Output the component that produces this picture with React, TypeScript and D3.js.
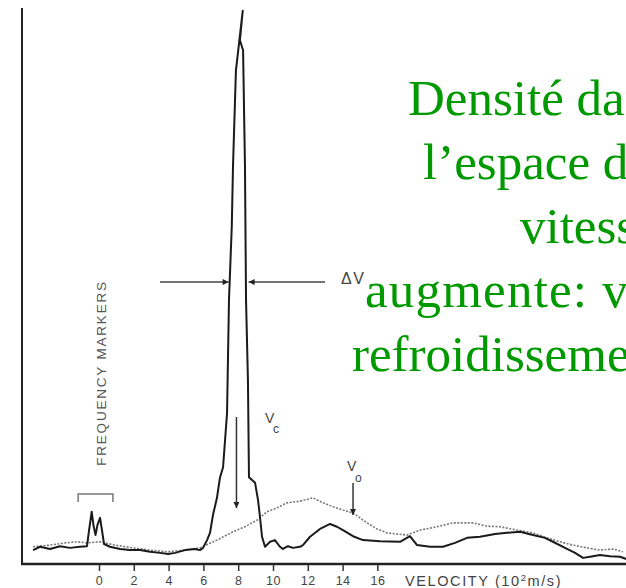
import { useEffect, useRef } from 'react';
import * as d3 from 'd3';

// velocity in 10^2 m/s, density in arbitrary units (0-100)
const solidVelocity = [
  -3.79, -3.39, -2.82, -2.24, -1.67, -1.09, -0.69, -0.57, -0.42, -0.32, -0.2, -0.09, 0.06, 0.17, 0.29,
  0.63, 1.21, 1.78, 2.36, 2.93, 3.51, 3.97, 4.37, 4.94, 5.52, 5.8, 5.98, 6.21, 6.38, 6.55, 6.78, 6.95,
  7.13, 7.36, 7.47, 7.63, 7.7, 7.87, 8.26, 8.1, 8.28, 8.39, 8.45, 8.56, 8.62, 8.97, 9.14, 9.25, 9.37,
  9.54, 9.83, 10.11, 10.4, 10.57, 10.86, 11.15, 11.55, 11.72, 12.13, 12.7, 13.28, 13.68, 14.02, 14.6,
  15.17, 16.15, 17.3, 17.87, 18.28, 19.02, 19.77, 20.46, 21.15, 21.9, 22.76, 23.45, 24.2, 24.94, 25.63,
  26.09, 26.78, 27.36, 27.82, 28.22, 28.79, 29.37, 29.94, 30.3,
];
const solidDensity = [
  2.5, 3.1, 2.7, 3.2, 2.9, 3.1, 3.2, 6.1, 9.4, 7.0, 5.2, 7.0, 8.3, 6.1, 3.6,
  3.1, 2.7, 2.5, 2.5, 2.2, 2.0, 1.8, 2.0, 2.5, 2.7, 2.5, 2.9, 4.3, 5.6, 8.8, 11.9, 15.5,
  17.4, 27.2, 47.5, 60.6, 71.4, 88.8, 99.5, 94.2, 92.4, 71.4, 47.5, 33.1, 15.6, 14.6, 11.5, 8.5, 4.9,
  3.1, 4.0, 4.3, 3.1, 2.7, 3.2, 2.9, 3.1, 3.4, 4.9, 6.3, 7.2, 6.7, 6.1, 5.0,
  4.3, 4.1, 4.0, 5.0, 3.4, 3.1, 3.1, 3.8, 4.7, 4.9, 5.4, 5.6, 5.8, 5.2, 4.7,
  4.0, 2.9, 2.0, 1.1, 1.3, 1.6, 1.4, 1.3, 0.9,
];

const dottedVelocity = [
  -3.79, -2.82, -1.95, -1.26, -0.69, 0.06, 0.92, 1.95, 2.93, 3.91, 4.94, 5.8, 6.78, 7.7, 8.39, 9.08,
  9.66, 10.23, 10.8, 11.55, 12.3, 12.87, 13.45, 14.02, 14.6, 15.4, 15.98, 16.55, 17.13, 17.7, 18.45,
  19.43, 20.34, 21.49, 22.3, 23.05, 24.02, 24.94, 25.75, 26.49, 27.24, 28.05, 28.79, 29.54, 30.11,
];
const dottedDensity = [
  3.1, 3.4, 3.8, 4.0, 3.8, 4.0, 3.4, 2.9, 2.5, 2.2, 2.5, 2.9, 4.3, 5.8, 6.7, 7.9,
  9.4, 10.1, 11.0, 11.3, 11.9, 11.0, 10.3, 9.7, 9.2, 7.4, 6.3, 5.6, 5.4, 5.2, 6.1,
  6.7, 7.4, 7.4, 6.8, 6.7, 6.1, 5.6, 4.7, 4.0, 3.4, 2.9, 2.5, 2.7, 2.2,
];

const tickValues = [0, 2, 4, 6, 8, 10, 12, 14, 16];
const vCapture = 7.9;
const vOven = 14.6;
const halfMax = 50.7;
const markerRange = [-1.2, 0.8];

const greenLines = ['Densité dans', 'l’espace des', 'vitesses', 'augmente: vrai', 'refroidissement'];
const greenStarts = [408, 423, 520, 365, 352];
const greenSpacing = [0, 0, 0, 1.2, 0];

const W = 626;
const H = 588;
const sans = 'Liberation Sans, Arial, sans-serif';

export default function App() {
  const axisRef = useRef<SVGGElement>(null);

  const x = d3.scaleLinear().domain([0, 16]).range([99, 377.4]);
  const y = d3.scaleLinear().domain([0, 100]).range([564, 8]);

  const line = d3
    .line<[number, number]>()
    .x((d) => x(d[0]))
    .y((d) => y(d[1]));

  const solid = solidVelocity.map((v, i) => [v, solidDensity[i]] as [number, number]);
  const dotted = dottedVelocity.map((v, i) => [v, dottedDensity[i]] as [number, number]);

  useEffect(() => {
    const g = d3.select(axisRef.current);
    g.selectAll('*').remove();
    g.call(
      d3.axisBottom(x).tickValues(tickValues).tickSize(6).tickPadding(5).tickFormat(d3.format('d'))
    );
    g.select('.domain').remove();
    g.selectAll('.tick line').attr('stroke', '#333').attr('stroke-width', 1.5);
    g.selectAll('.tick text')
      .attr('fill', '#444')
      .attr('font-size', 12.5)
      .attr('font-family', sans)
      .attr('letter-spacing', 0.5);
  }, []);

  const yHalf = y(halfMax);

  return (
    <svg
      width={W}
      height={H}
      style={{ position: 'absolute', left: 0, top: 0, background: '#fff' }}
    >
      <defs>
        <marker id="ah" viewBox="0 0 10 10" refX="10" refY="5" markerWidth="8" markerHeight="6" orient="auto" markerUnits="userSpaceOnUse">
          <path d="M0,0 L10,5 L0,10 z" fill="#222" />
        </marker>
      </defs>
      <rect width={W} height={H} fill="#fff" />

      {/* axes frame */}
      <line x1={22} y1={8} x2={22} y2={565} stroke="#222" strokeWidth={2} />
      <line x1={21} y1={564} x2={W} y2={564} stroke="#222" strokeWidth={2.5} />
      <g ref={axisRef} transform="translate(0,565)" />
      <text x={405} y={586} fill="#444" fontSize={14.5} fontFamily={sans} letterSpacing={1.6}>
        VELOCITY (10<tspan dy={-5} fontSize={9.5}>2</tspan>
        <tspan dy={5}>m/s)</tspan>
      </text>

      {/* curves */}
      <path d={line(dotted) || ''} fill="none" stroke="#777" strokeWidth={1.6} strokeDasharray="2,1.5" />
      <path d={line(solid) || ''} fill="none" stroke="#1a1a1a" strokeWidth={2} strokeLinejoin="round" />

      {/* frequency markers */}
      <path
        d={`M${x(markerRange[0])},502 V494 H${x(markerRange[1])} V502`}
        fill="none"
        stroke="#777"
        strokeWidth={1.5}
      />
      <text
        transform="translate(106,373) rotate(-90)"
        textAnchor="middle"
        fill="#555"
        fontSize={13.5}
        fontFamily={sans}
        letterSpacing={1.8}
      >
        FREQUENCY MARKERS
      </text>

      {/* delta v arrows at half maximum */}
      <line x1={160} y1={yHalf} x2={x(7.45)} y2={yHalf} stroke="#444" strokeWidth={1.5} markerEnd="url(#ah)" />
      <line x1={325} y1={yHalf} x2={x(8.6)} y2={yHalf} stroke="#444" strokeWidth={1.5} markerEnd="url(#ah)" />
      <text x={341} y={284} fill="#444" fontSize={16} fontFamily={sans} letterSpacing={1.5}>
        ΔV
      </text>

      {/* V_c and V_o */}
      <line x1={x(vCapture)} y1={417} x2={x(vCapture)} y2={508} stroke="#333" strokeWidth={1.5} markerEnd="url(#ah)" />
      <text x={265} y={423} fill="#444" fontSize={14} fontFamily={sans}>V</text>
      <text x={273} y={433} fill="#444" fontSize={12} fontFamily={sans}>c</text>
      <line x1={x(vOven)} y1={483} x2={x(vOven)} y2={515} stroke="#333" strokeWidth={1.5} markerEnd="url(#ah)" />
      <text x={347} y={471} fill="#444" fontSize={14} fontFamily={sans}>V</text>
      <text x={355} y={482} fill="#444" fontSize={12} fontFamily={sans}>o</text>

      {/* green overlay */}
      {greenLines.map((t, i) => (
        <text
          key={t}
          x={greenStarts[i]}
          y={115 + i * 64}
          fill="#009900"
          fontSize={51}
          letterSpacing={greenSpacing[i]}
          fontFamily="Liberation Serif, Times New Roman, serif"
        >
          {t}
        </text>
      ))}
    </svg>
  );
}
